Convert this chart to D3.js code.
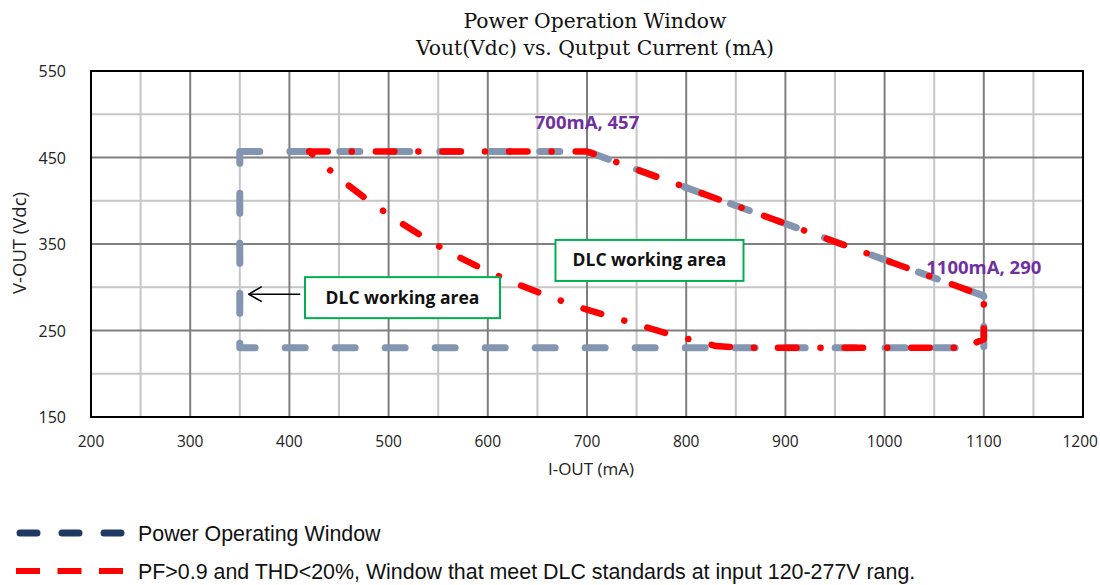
<!DOCTYPE html>
<html>
<head>
<meta charset="utf-8">
<script src="https://cdn.jsdelivr.net/npm/d3@7"></script>
<style>
  body { margin: 0; background: #fff; }
  svg { display: block; }
</style>
</head>
<body>
<div id="chart"></div>
<script>
// axis ticks
const xTicks = [200, 300, 400, 500, 600, 700, 800, 900, 1000, 1100, 1200];
const xMinor = [250, 350, 450, 550, 650, 750, 850, 950, 1050, 1150];
const yTicks = [150, 250, 350, 450, 550];
const yMinor = [200, 300, 400, 500];

// Power Operating Window (mA, Vdc)
const powerI = [350, 700, 1100, 1100, 350, 350];
const powerV = [457, 457, 290, 230, 230, 457];

// PF>0.9 / THD<20% DLC window (mA, Vdc)
const dlcI = [420, 700, 1100, 1100, 1080, 860, 830, 810, 785, 745, 700, 660, 620, 590, 560, 535, 505, 480, 450, 420];
const dlcV = [457, 457, 290, 240, 230, 230, 232, 238, 245, 259, 274, 290, 308, 324, 341, 358, 380, 400, 426, 457];

const pointLabels = ['700mA, 457', '1100mA, 290'];
const pointLabelI = [700, 1100];
const pointLabelV = [457, 290];

const legendNames = ['Power Operating Window', 'PF>0.9 and THD<20%, Window that meet DLC standards at input 120-277V rang.'];

const W = 1100, H = 585;
const margin = { top: 71, right: 17, bottom: 168, left: 91 };
const iW = W - margin.left - margin.right;
const iH = H - margin.top - margin.bottom;

const svg = d3.select('#chart').append('svg').attr('width', W).attr('height', H);
svg.append('rect').attr('width', W).attr('height', H).attr('fill', '#fff');

const x = d3.scaleLinear().domain([200, 1200]).range([0, iW]);
const y = d3.scaleLinear().domain([150, 550]).range([iH, 0]);

const g = svg.append('g').attr('transform', `translate(${margin.left},${margin.top})`);

// title
const title = svg.append('text').attr('text-anchor', 'middle')
  .attr('font-family', '"DejaVu Serif", serif').attr('font-size', '20.3px').attr('fill', '#111');
title.append('tspan').attr('x', 595).attr('y', 28).text('Power Operation Window');
title.append('tspan').attr('x', 595).attr('y', 55).text('Vout(Vdc) vs. Qutput Current (mA)');

// grid
g.selectAll('.xmin').data(xMinor).join('line')
  .attr('x1', d => x(d)).attr('x2', d => x(d)).attr('y1', 0).attr('y2', iH)
  .attr('stroke', '#c6c6c6').attr('stroke-width', 2);
g.selectAll('.ymin').data(yMinor).join('line')
  .attr('y1', d => y(d)).attr('y2', d => y(d)).attr('x1', 0).attr('x2', iW)
  .attr('stroke', '#c6c6c6').attr('stroke-width', 2);
g.selectAll('.xmaj').data(xTicks.slice(1, -1)).join('line')
  .attr('x1', d => x(d)).attr('x2', d => x(d)).attr('y1', 0).attr('y2', iH)
  .attr('stroke', '#7f7f7f').attr('stroke-width', 2);
g.selectAll('.ymaj').data(yTicks.slice(1, -1)).join('line')
  .attr('y1', d => y(d)).attr('y2', d => y(d)).attr('x1', 0).attr('x2', iW)
  .attr('stroke', '#7f7f7f').attr('stroke-width', 2);

g.append('rect').attr('width', iW).attr('height', iH)
  .attr('fill', 'none').attr('stroke', '#000').attr('stroke-width', 2);

// tick labels
const tickFont = '"Open Sans", sans-serif';
g.selectAll('.xl').data(xTicks).join('text')
  .attr('x', d => x(d)).attr('y', iH + 30)
  .attr('text-anchor', 'middle').attr('font-family', tickFont).attr('font-size', '15.5px')
  .attr('fill', '#222').text(d => d)
  .each(function () {
    // keep the last label inside the page
    const bb = this.getBBox();
    const over = margin.left + bb.x + bb.width - (W - 2);
    if (over > 0) d3.select(this).attr('x', +d3.select(this).attr('x') - over);
  });
g.selectAll('.yl').data(yTicks).join('text')
  .attr('x', -25).attr('y', d => y(d) + 6)
  .attr('text-anchor', 'end').attr('font-family', tickFont).attr('font-size', '16px')
  .attr('fill', '#222').text(d => d);

svg.append('text').attr('x', 591).attr('y', 475).attr('text-anchor', 'middle')
  .attr('font-family', tickFont).attr('font-size', '17px').attr('fill', '#222').text('I-OUT (mA)');
svg.append('text').attr('transform', 'translate(26,243) rotate(-90)').attr('text-anchor', 'middle')
  .attr('font-family', tickFont).attr('font-size', '18.5px').attr('fill', '#222').text('V-OUT (Vdc)');

// series
const line = d3.line().x(d => x(d[0])).y(d => y(d[1]));
const powerPts = powerI.map((v, i) => [v, powerV[i]]);
const dlcPts = dlcI.map((v, i) => [v, dlcV[i]]);

g.append('path').attr('d', line(powerPts))
  .attr('fill', 'none').attr('stroke', '#8395b0').attr('stroke-width', 7)
  .attr('stroke-linecap', 'round').attr('stroke-linejoin', 'round')
  .attr('stroke-dasharray', '20,30');

g.append('path').attr('d', line(dlcPts))
  .attr('fill', 'none').attr('stroke', '#ff0000').attr('stroke-width', 6.5)
  .attr('stroke-linecap', 'round').attr('stroke-linejoin', 'round')
  .attr('stroke-dasharray', '18.5,24,0.1,24');

// point labels
g.selectAll('.pl').data(pointLabels).join('text')
  .attr('x', (d, i) => x(pointLabelI[i])).attr('y', (d, i) => y(pointLabelV[i]) - 22)
  .attr('text-anchor', 'middle').attr('font-family', tickFont).attr('font-weight', 700)
  .attr('font-size', '18.5px').attr('fill', '#7030a0').text(d => d);

// annotation boxes
function box(cx, cy, w, h) {
  g.append('rect').attr('x', cx - w / 2).attr('y', cy - h / 2).attr('width', w).attr('height', h)
    .attr('fill', '#fff').attr('stroke', '#00b050').attr('stroke-width', 2);
  g.append('text').attr('x', cx).attr('y', cy + 6).attr('text-anchor', 'middle')
    .attr('font-family', tickFont).attr('font-weight', 700).attr('font-size', '17.5px')
    .attr('fill', '#111').text('DLC working area');
}
box(x(514), y(288), 195, 41);
box(x(763), y(331), 188, 41);

// arrow
svg.append('defs').append('marker').attr('id', 'arr').attr('viewBox', '0 0 16 18')
  .attr('refX', 15).attr('refY', 9).attr('markerWidth', 16).attr('markerHeight', 18)
  .attr('markerUnits', 'userSpaceOnUse').attr('orient', 'auto')
  .append('path').attr('d', 'M2,1.5 L15,9 L2,16.5').attr('fill', 'none').attr('stroke', '#000').attr('stroke-width', 1.6);
g.append('line').attr('x1', x(411)).attr('x2', x(359)).attr('y1', y(292)).attr('y2', y(292))
  .attr('stroke', '#000').attr('stroke-width', 1.5).attr('marker-end', 'url(#arr)');

// legend
const leg = svg.append('g');
const legY = [533, 571];
leg.append('line').attr('x1', 20).attr('x2', 126).attr('y1', legY[0]).attr('y2', legY[0])
  .attr('stroke', '#1f3864').attr('stroke-width', 7).attr('stroke-linecap', 'round')
  .attr('stroke-dasharray', '17,25');
leg.append('line').attr('x1', 16).attr('x2', 124).attr('y1', legY[1]).attr('y2', legY[1])
  .attr('stroke', '#ff0000').attr('stroke-width', 6).attr('stroke-dasharray', '24,17.5');
leg.selectAll('.lt').data(legendNames).join('text')
  .attr('x', 138).attr('y', (d, i) => legY[i] + 7.5)
  .attr('font-family', '"Liberation Sans", Arial, sans-serif').attr('font-size', '21.4px')
  .attr('fill', '#111').text(d => d);
</script>
</body>
</html>
